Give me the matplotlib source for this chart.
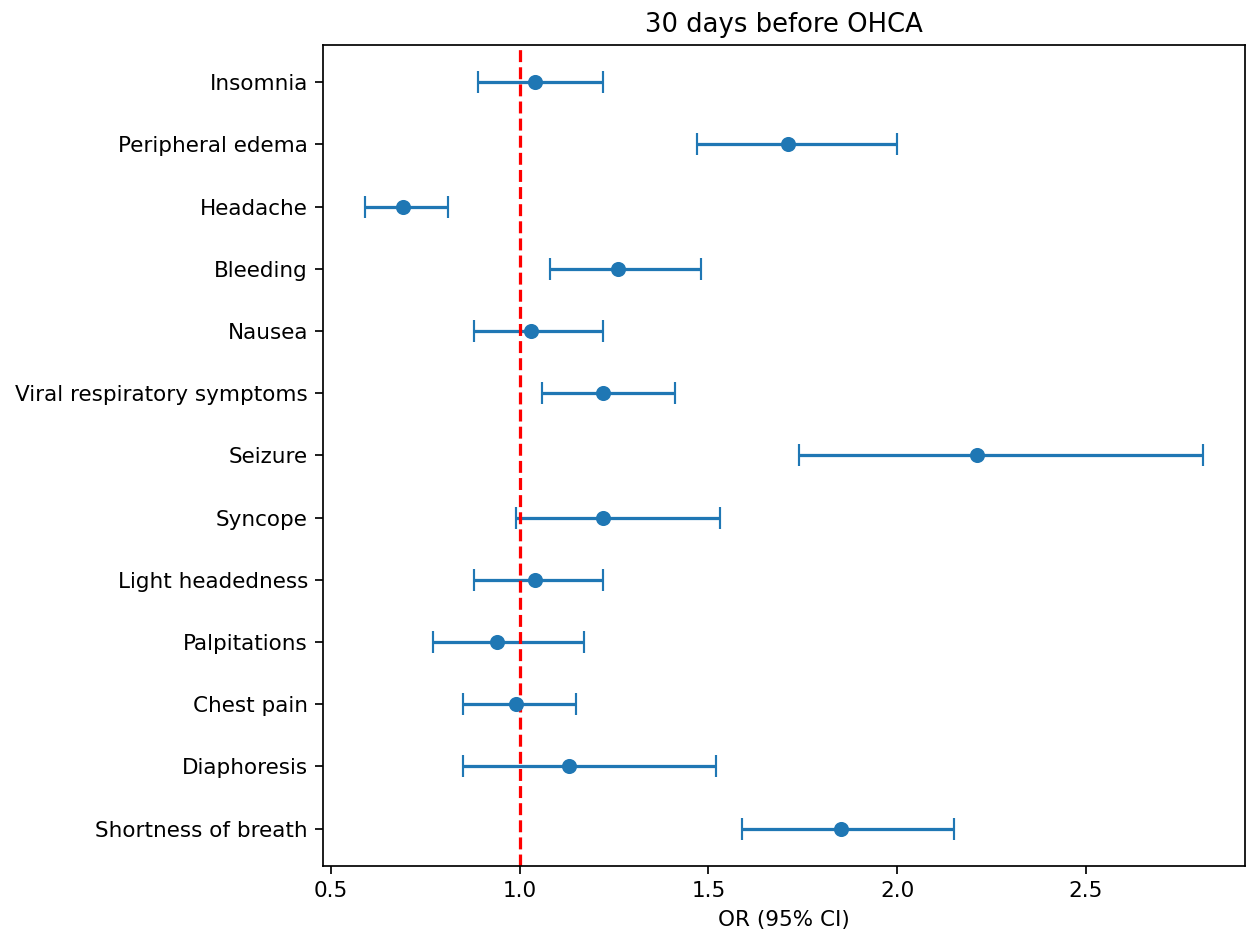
import matplotlib
matplotlib.use('Agg')
import matplotlib.pyplot as plt

# Dados: sintomas, OR e intervalos de confiança 95%
sintomas = ['Shortness of breath', 'Diaphoresis', 'Chest pain', 'Palpitations',
            'Light headedness', 'Syncope', 'Seizure', 'Viral respiratory symptoms',
            'Nausea', 'Bleeding', 'Headache', 'Peripheral edema', 'Insomnia']
odds_ratio = [1.85, 1.13, 0.99, 0.94, 1.04, 1.22, 2.21, 1.22, 1.03, 1.26, 0.69, 1.71, 1.04]
ic_inferior = [1.59, 0.85, 0.85, 0.77, 0.88, 0.99, 1.74, 1.06, 0.88, 1.08, 0.59, 1.47, 0.89]
ic_superior = [2.15, 1.52, 1.15, 1.17, 1.22, 1.53, 2.81, 1.41, 1.22, 1.48, 0.81, 2.00, 1.22]

erro_inf = [o - l for o, l in zip(odds_ratio, ic_inferior)]
erro_sup = [u - o for o, u in zip(odds_ratio, ic_superior)]
posicoes = list(range(len(sintomas)))

dpi = 155
fig, ax = plt.subplots(figsize=(1249 / dpi, 935 / dpi), dpi=dpi)
fig.subplots_adjust(left=0.2586, right=0.9968, top=0.9519, bottom=0.0738)

ax.errorbar(odds_ratio, posicoes, xerr=[erro_inf, erro_sup], fmt='o', capsize=5)
ax.axvline(1, color='red', linestyle='--')

ax.set_yticks(posicoes)
ax.set_yticklabels(sintomas)
ax.set_xlabel('OR (95% CI)')
ax.set_title('30 days before OHCA')

fig.savefig('out.png', dpi=dpi)
